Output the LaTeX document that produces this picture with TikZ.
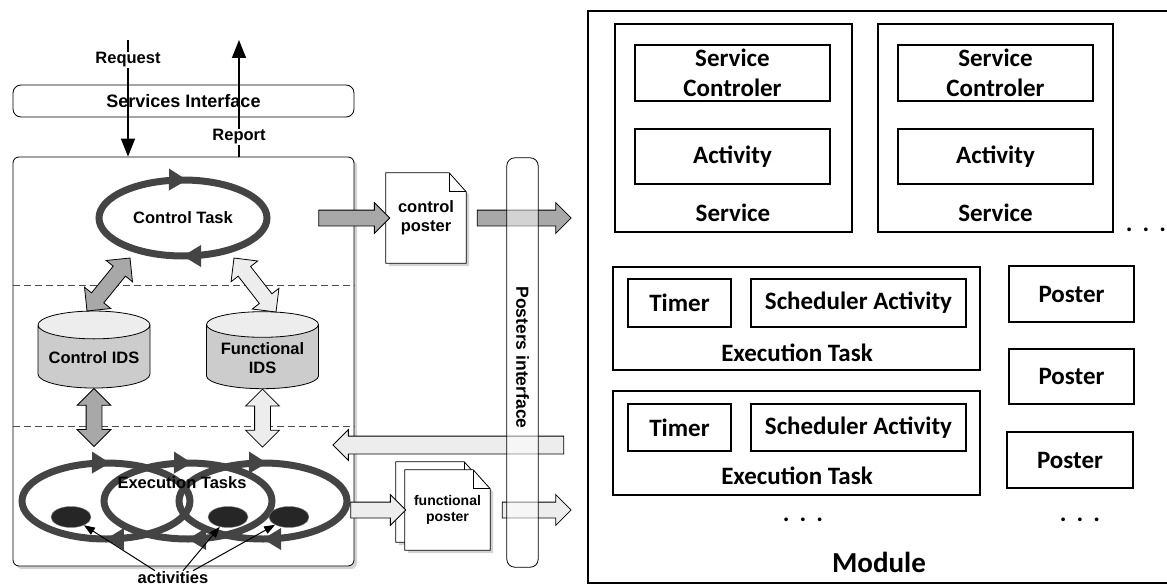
\documentclass[tikz,border=0pt]{standalone}
\usepackage{fontspec}
\setmainfont{Liberation Sans}
\newfontfamily\calibfont{Carlito}
\usetikzlibrary{positioning,calc,shapes.geometric,shapes.arrows,shadows,arrows.meta,decorations.markings}

\definecolor{loopgray}{HTML}{444444}
\definecolor{midgray}{HTML}{A8A8A8}
\definecolor{palegray}{HTML}{EDEDED}

\tikzset{
  lbl/.style={font=\fontsize{16.5}{19}\selectfont\bfseries, align=center, inner sep=1pt},
  smalllbl/.style={font=\fontsize{14}{16}\selectfont\bfseries, align=center, inner sep=1pt},
  iflbl/.style={font=\fontsize{18}{20}\selectfont\bfseries},
  shade/.style={drop shadow={opacity=0.35, shadow xshift=3pt, shadow yshift=-3pt}},
  taskloop/.style={draw=loopgray, line width=7pt, postaction={decorate},
    decoration={markings,
      mark=at position 0.25 with {\arrow{Triangle[length=18pt,width=22pt,line width=0pt]}},
      mark=at position 0.76 with {\arrow{Triangle[length=18pt,width=22pt,line width=0pt]}}}},
  ids/.style={cylinder, shape border rotate=90, aspect=0.3, draw, line width=0.8pt,
    cylinder uses custom fill, cylinder body fill=black!20, cylinder end fill=black!7,
    minimum width=112pt, minimum height=77pt, lbl},
  docpage/.style={draw, line width=0.8pt, fill=white, shade},
  fatarrow/.style={single arrow, draw, line width=0.8pt, inner xsep=0pt, inner ysep=7.5pt,
    single arrow head extend=7.5pt},
  fatdouble/.style={double arrow, draw, line width=0.8pt, inner xsep=0pt, inner ysep=7.5pt,
    double arrow head extend=9pt},
  thinarrow/.style={line width=1.5pt, -{Triangle[length=18pt,width=14pt]}},
  actarrow/.style={line width=1pt, -{Triangle[length=11pt,width=8pt]}},
  modbox/.style={draw, line width=1.6pt, inner sep=0pt},
  modtxt/.style={font=\calibfont\fontsize{25}{30}\selectfont\bfseries, align=center, inner sep=0pt},
}

% block arrow node stretched between two points
\newcommand{\blockarrow}[3]{%
  \path let \p1=($(#3)-(#2)$) in
    node[#1, minimum height={veclen(\x1,\y1)}, rotate={atan2(\y1,\x1)}] at ($(#2)!0.5!(#3)$) {};
}
% page with a folded corner
\newcommand{\posterpage}[1]{%
  \draw[docpage] (#1.north west) -- ([xshift=-17pt]#1.north east) -- ([yshift=-19pt]#1.north east)
    -- (#1.south east) -- (#1.south west) -- cycle;
  \draw[line width=0.8pt] ([xshift=-17pt]#1.north east) -- ([xshift=-17pt,yshift=-19pt]#1.north east)
    -- ([yshift=-19pt]#1.north east);
}

\begin{document}
\begin{tikzpicture}[x=1pt,y=-1pt]
  \useasboundingbox (0,0) rectangle (1167,586);

  % ---- left part: the module at run time
  \node[draw, rounded corners=6pt, line width=0.8pt, fill=white, shade,
    minimum width=341pt, minimum height=409pt] (taskBox) at (183.5,361.5) {};

  \coordinate (reqTop) at (128,40);
  \coordinate (repTop) at (239,40);
  \draw[thinarrow] (reqTop) -- (reqTop |- taskBox.north);
  \draw[thinarrow] (repTop |- taskBox.north) -- (repTop);
  \node[draw, rounded corners=8pt, line width=0.8pt, minimum width=341pt, minimum height=32pt,
    iflbl] (servIF) at (183.5,101) {Services Interface};
  \node[lbl, fill=white] (reqLbl) at (128,60) {Request};
  \node[lbl, fill=white] (repLbl) at (239,137) {Report};

  \coordinate (sepA) at (0,285);
  \coordinate (sepB) at (0,426);
  \draw[dashed, dash pattern=on 7pt off 4pt, black!70] (taskBox.west |- sepA) -- (taskBox.east |- sepA);
  \draw[dashed, dash pattern=on 7pt off 4pt, black!70] (taskBox.west |- sepB) -- (taskBox.east |- sepB);

  \draw[taskloop] (183,218) ellipse [x radius=84, y radius=38];
  \node[lbl] (ctrlTask) at (183,218) {Control Task};

  \node[ids] (ctrlIDS) at (94,358) {Control IDS};
  \node[ids] (funcIDS) at (262.5,358) {Functional\\IDS};

  \coordinate (dA1) at (130,258);
  \coordinate (dA2) at (87,311);
  \coordinate (dB1) at (234,258);
  \coordinate (dB2) at (276,312);
  \coordinate (ctrlLow) at ([yshift=-58pt]ctrlIDS.south);
  \coordinate (funcLow) at ([yshift=-58pt]funcIDS.south);
  \blockarrow{fatdouble, fill=midgray}{dA1}{dA2}
  \blockarrow{fatdouble, fill=palegray}{dB1}{dB2}
  \blockarrow{fatdouble, fill=midgray}{ctrlIDS.south}{ctrlLow}
  \blockarrow{fatdouble, fill=palegray}{funcIDS.south}{funcLow}

  \draw[taskloop] (106,501) ellipse [x radius=84, y radius=38];
  \draw[taskloop] (188,501) ellipse [x radius=84, y radius=38];
  \draw[taskloop] (263,501) ellipse [x radius=84, y radius=38];
  \node[lbl] (execTasks) at (182,483) {Execution Tasks};
  \node[ellipse, fill=black!85, draw=black!50, minimum width=40pt, minimum height=21pt] (act1) at (71,517) {};
  \node[ellipse, fill=black!85, draw=black!50, minimum width=40pt, minimum height=21pt] (act2) at (228,517) {};
  \node[ellipse, fill=black!85, draw=black!50, minimum width=40pt, minimum height=21pt] (act3) at (289,517) {};
  \node[lbl] (actsLbl) at (173,578) {activities};
  \draw[actarrow] ([xshift=-18pt]actsLbl.north) -- (act1);
  \draw[actarrow] ([xshift=10pt]actsLbl.north) -- (act2);
  \draw[actarrow] ([xshift=20pt]actsLbl.north) -- (act3);

  % ---- posters
  \node[minimum width=80pt, minimum height=90pt] (ctrlPoster) at (426,218) {};
  \posterpage{ctrlPoster}
  \node[lbl] (ctrlPosterTxt) at (ctrlPoster) {control\\poster};

  \node[minimum width=85pt, minimum height=80pt] (fnBack) at (438.5,502) {};
  \node[minimum width=85pt, minimum height=80pt] (fnPoster) at (447.5,510) {};
  \posterpage{fnBack}
  \posterpage{fnPoster}
  \node[smalllbl] (fnPosterTxt) at (fnPoster) {functional\\poster};

  \node[minimum width=31pt, minimum height=409pt] (postersIF) at (522.5,362.5) {};
  \coordinate (backY) at (0,445);
  \coordinate (cpTail) at ([xshift=-71pt]ctrlPoster.west);
  \coordinate (cpOutA) at ([xshift=7pt]ctrlPoster.east);
  \coordinate (cpOutB) at ([xshift=29pt]postersIF.east |- ctrlPoster.west);
  \coordinate (backTail) at ([xshift=30pt]postersIF.east |- backY);
  \coordinate (backTip) at ([xshift=-17pt]taskBox.east |- backY);
  \coordinate (fnTail) at ([xshift=-58pt]fnPoster.west);
  \coordinate (fnTip) at ([xshift=-3pt]fnPoster.west);
  \coordinate (fnOutA) at ([xshift=8pt]fnPoster.east);
  \coordinate (fnOutB) at ([xshift=29pt]postersIF.east |- fnPoster.west);
  \blockarrow{fatarrow, fill=midgray}{cpTail}{ctrlPoster.west}
  \blockarrow{fatarrow, fill=midgray}{cpOutA}{cpOutB}
  \blockarrow{fatarrow, fill=palegray, inner ysep=8.5pt, single arrow head extend=6.5pt}{backTail}{backTip}
  \blockarrow{fatarrow, fill=palegray}{fnTail}{fnTip}
  \blockarrow{fatarrow, fill=palegray}{fnOutA}{fnOutB}

  \draw[rounded corners=8pt, line width=0.8pt, fill=white, fill opacity=0.5]
    (postersIF.north west) rectangle (postersIF.south east);
  \node[iflbl, font=\fontsize{17.5}{20}\selectfont\bfseries, rotate=-90] (postersTxt)
    at ([yshift=5pt]postersIF) {Posters interface};

  % ---- right part: the module structure
  \node[modbox, minimum width=587pt, minimum height=572pt] (module) at (881.5,297) {};
  \node[modtxt, font=\calibfont\fontsize{29}{32}\selectfont\bfseries] (moduleLbl) at (879,562) {Module};

  \node[modbox, minimum width=237pt, minimum height=208pt] (srv1) at (733.5,128) {};
  \node[modbox, minimum width=195pt, minimum height=56pt, modtxt] (sc1) at (732.5,73) {Service\\Controler};
  \node[modbox, minimum width=195pt, minimum height=55pt, modtxt] (act1box) at (732.5,156.5) {Activity};
  \node[modtxt] (srv1Lbl) at (733,213) {Service};

  \node[modbox, minimum width=235pt, minimum height=208pt] (srv2) at (995.5,128) {};
  \node[modbox, minimum width=195pt, minimum height=56pt, modtxt] (sc2) at (995.5,73) {Service\\Controler};
  \node[modbox, minimum width=195pt, minimum height=55pt, modtxt] (act2box) at (995.5,156.5) {Activity};
  \node[modtxt] (srv2Lbl) at (995.5,213) {Service};
  \node[modtxt, anchor=base] (srvDots) at (1146,231) {.\hspace{10pt}.\hspace{10pt}.};

  \node[modbox, minimum width=367pt, minimum height=103pt] (exec1) at (796.5,318.5) {};
  \node[modbox, minimum width=103pt, minimum height=48pt, modtxt] (timer1) at (679.5,303) {Timer};
  \node[modbox, minimum width=215pt, minimum height=48pt, modtxt] (sched1) at (858.5,303) {Scheduler Activity};
  \node[modtxt] (exec1Lbl) at (797,353) {Execution Task};

  \node[modbox, minimum width=367pt, minimum height=104pt] (exec2) at (796.5,443) {};
  \node[modbox, minimum width=103pt, minimum height=47pt, modtxt] (timer2) at (679.5,427.5) {Timer};
  \node[modbox, minimum width=215pt, minimum height=47pt, modtxt] (sched2) at (858.5,427.5) {Scheduler Activity};
  \node[modtxt] (exec2Lbl) at (797,476) {Execution Task};
  \node[modtxt, anchor=base] (execDots) at (803,521) {.\hspace{10pt}.\hspace{10pt}.};

  \node[modbox, minimum width=125pt, minimum height=56pt, modtxt] (poster1) at (1071.5,294) {Poster};
  \node[modbox, minimum width=125pt, minimum height=55pt, modtxt] (poster2) at (1071.5,376.5) {Poster};
  \node[modbox, minimum width=126pt, minimum height=56pt, modtxt] (poster3) at (1070,460) {Poster};
  \node[modtxt, anchor=base] (posterDots) at (1080,521) {.\hspace{10pt}.\hspace{10pt}.};
\end{tikzpicture}
\end{document}
